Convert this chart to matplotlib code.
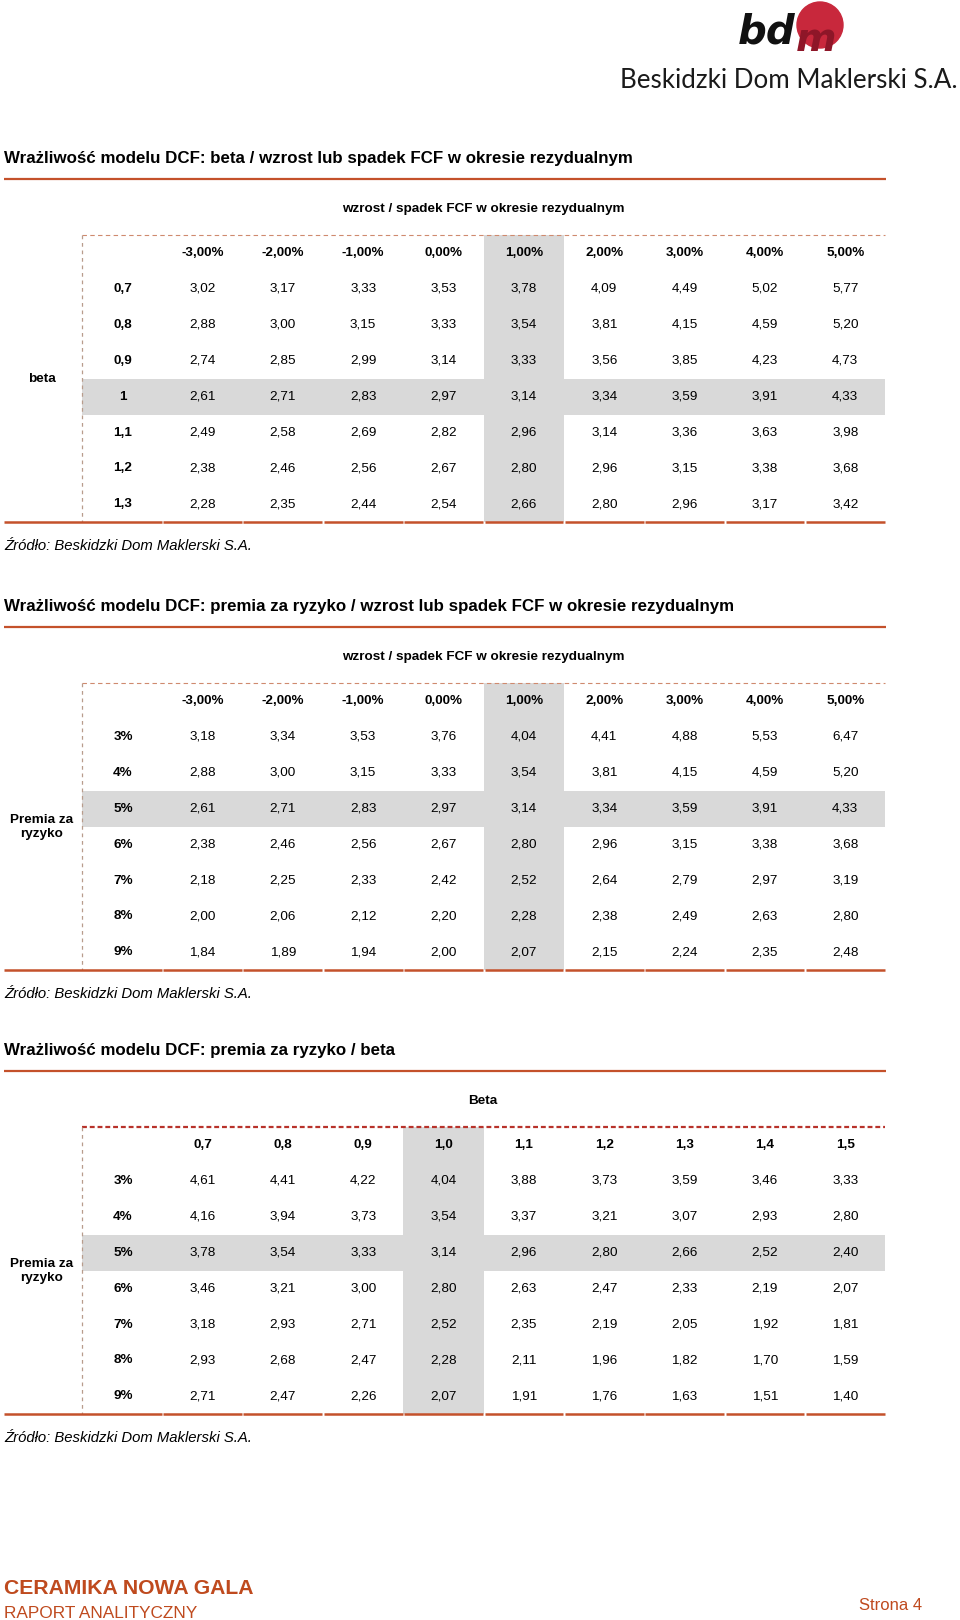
import matplotlib
matplotlib.use('Agg')
import matplotlib.pyplot as plt
from matplotlib.patches import Rectangle, Circle

plt.rcParams['font.family'] = ['Liberation Sans', 'DejaVu Sans']

# ---------------- data ----------------
fcf_cols = ['-3,00%', '-2,00%', '-1,00%', '0,00%', '1,00%', '2,00%', '3,00%', '4,00%', '5,00%']
beta_rows = ['0,7', '0,8', '0,9', '1', '1,1', '1,2', '1,3']
vals_beta_fcf = [
    [3.02, 3.17, 3.33, 3.53, 3.78, 4.09, 4.49, 5.02, 5.77],
    [2.88, 3.00, 3.15, 3.33, 3.54, 3.81, 4.15, 4.59, 5.20],
    [2.74, 2.85, 2.99, 3.14, 3.33, 3.56, 3.85, 4.23, 4.73],
    [2.61, 2.71, 2.83, 2.97, 3.14, 3.34, 3.59, 3.91, 4.33],
    [2.49, 2.58, 2.69, 2.82, 2.96, 3.14, 3.36, 3.63, 3.98],
    [2.38, 2.46, 2.56, 2.67, 2.80, 2.96, 3.15, 3.38, 3.68],
    [2.28, 2.35, 2.44, 2.54, 2.66, 2.80, 2.96, 3.17, 3.42],
]

premia_rows = ['3%', '4%', '5%', '6%', '7%', '8%', '9%']
vals_premia_fcf = [
    [3.18, 3.34, 3.53, 3.76, 4.04, 4.41, 4.88, 5.53, 6.47],
    [2.88, 3.00, 3.15, 3.33, 3.54, 3.81, 4.15, 4.59, 5.20],
    [2.61, 2.71, 2.83, 2.97, 3.14, 3.34, 3.59, 3.91, 4.33],
    [2.38, 2.46, 2.56, 2.67, 2.80, 2.96, 3.15, 3.38, 3.68],
    [2.18, 2.25, 2.33, 2.42, 2.52, 2.64, 2.79, 2.97, 3.19],
    [2.00, 2.06, 2.12, 2.20, 2.28, 2.38, 2.49, 2.63, 2.80],
    [1.84, 1.89, 1.94, 2.00, 2.07, 2.15, 2.24, 2.35, 2.48],
]

beta_cols = ['0,7', '0,8', '0,9', '1,0', '1,1', '1,2', '1,3', '1,4', '1,5']
vals_premia_beta = [
    [4.61, 4.41, 4.22, 4.04, 3.88, 3.73, 3.59, 3.46, 3.33],
    [4.16, 3.94, 3.73, 3.54, 3.37, 3.21, 3.07, 2.93, 2.80],
    [3.78, 3.54, 3.33, 3.14, 2.96, 2.80, 2.66, 2.52, 2.40],
    [3.46, 3.21, 3.00, 2.80, 2.63, 2.47, 2.33, 2.19, 2.07],
    [3.18, 2.93, 2.71, 2.52, 2.35, 2.19, 2.05, 1.92, 1.81],
    [2.93, 2.68, 2.47, 2.28, 2.11, 1.96, 1.82, 1.70, 1.59],
    [2.71, 2.47, 2.26, 2.07, 1.91, 1.76, 1.63, 1.51, 1.40],
]

titles = [
    'Wrażliwość modelu DCF: beta / wzrost lub spadek FCF w okresie rezydualnym',
    'Wrażliwość modelu DCF: premia za ryzyko / wzrost lub spadek FCF w okresie rezydualnym',
    'Wrażliwość modelu DCF: premia za ryzyko / beta',
]
subheaders = ['wzrost / spadek FCF w okresie rezydualnym',
              'wzrost / spadek FCF w okresie rezydualnym',
              'Beta']
group_labels = ['beta', 'Premia za\nryzyko', 'Premia za\nryzyko']
source_text = 'Źródło: Beskidzki Dom Maklerski S.A.'

# ---------------- style ----------------
W, H = 960, 1620
RED = '#C4512B'
GRAY = '#D9D9D9'
FS = 9.7
CW = 80.35       # column width in px
RH = 35.9        # row height in px
X0 = 202.5       # center of first data column in px

fig = plt.figure(figsize=(9.6, 16.2), dpi=100)
bg = fig.add_axes([0, 0, 1, 1])
bg.set_xlim(0, W)
bg.set_ylim(H, 0)
bg.axis('off')

# ---------------- logo ----------------
bg.add_patch(Circle((820, 25), 23, color='#C8283C', zorder=1))
bg.text(767, 32, 'bd', fontsize=29, fontweight='bold', fontstyle='italic',
        family=['DejaVu Sans'], ha='center', va='center', color='#111111', zorder=2)
bg.text(816, 40, 'm', fontsize=28, fontweight='bold', fontstyle='italic',
        family=['DejaVu Sans'], ha='center', va='center', color='#8E1628', zorder=2)
bg.text(958, 81, 'Beskidzki Dom Maklerski S.A.', fontsize=18.7, family=['Lato', 'Liberation Sans'],
        ha='right', va='center', color='#1a1a1a')


def draw_table(offset, title, subheader, cols, rows, vals, glabel, hl_row, hl_col,
               dense_top=False):
    # title & underline
    bg.text(4, 159 + offset, title, fontsize=12.12, fontweight='bold', ha='left',
            va='center', color='black')
    bg.plot([4, 886], [179 + offset, 179 + offset], color=RED, lw=1.6,
            solid_capstyle='butt')
    bg.text(483, 209 + offset, subheader, fontsize=FS, fontweight='bold',
            ha='center', va='center')
    bg.text(4, 546 + offset, source_text, fontsize=10.7, fontstyle='italic',
            ha='left', va='center')

    header_y = 253 + offset
    top_px = header_y - RH / 2
    bot_px = header_y + 7.5 * RH
    left_px = X0 - 2.5 * CW
    ax = fig.add_axes([left_px / W, 1 - bot_px / H, 11 * CW / W, (bot_px - top_px) / H])
    ax.set_xlim(-2.5, 8.5)
    ax.set_ylim(6.5, -1.5)
    ax.axis('off')

    n = len(rows)
    # shading
    ax.add_patch(Rectangle((-1.5, hl_row - 0.5), 10, 1, color=GRAY, lw=0, zorder=0))
    ax.add_patch(Rectangle((hl_col - 0.5, -1.5), 1, n + 1, color=GRAY, lw=0, zorder=0))

    # header
    for j, c in enumerate(cols):
        ax.text(j, -1, c, fontsize=FS, fontweight='bold', ha='center', va='center')
    for i, r in enumerate(rows):
        ax.text(-0.99, i, r, fontsize=FS, fontweight='bold', ha='center', va='center')
        for j, v in enumerate(vals[i]):
            ax.text(j, i, f'{v:.2f}'.replace('.', ','), fontsize=FS,
                    ha='center', va='center')
    ax.text(-2, (n - 2) / 2, glabel, fontsize=FS, fontweight='bold', ha='center',
            va='center', linespacing=1.25)

    # top dashed line
    if dense_top:
        ax.plot([-1.5, 8.5], [-1.5, -1.5], color='#B8322A', lw=1.6,
                linestyle=(0, (2.2, 1.3)), clip_on=False)
    else:
        ax.plot([-1.5, 8.5], [-1.5, -1.5], color='#CF8A6E', lw=0.8,
                linestyle=(0, (4, 3)), clip_on=False)
    # left dashed line
    ax.plot([-1.5, -1.5], [-1.5, n - 0.5], color='#B89C8C', lw=0.9,
            linestyle=(0, (3, 3)), clip_on=False)
    # bottom segmented line
    g = 0.01
    ax.plot([-2.47, -0.5 - g], [n - 0.5, n - 0.5], color=RED, lw=1.8,
            solid_capstyle='butt', clip_on=False)
    for j in range(len(cols)):
        ax.plot([j - 0.5 + g, j + 0.5 - g], [n - 0.5, n - 0.5], color=RED, lw=1.8,
                solid_capstyle='butt', clip_on=False)


draw_table(0, titles[0], subheaders[0], fcf_cols, beta_rows, vals_beta_fcf,
           group_labels[0], hl_row=3, hl_col=4)
draw_table(448, titles[1], subheaders[1], fcf_cols, premia_rows, vals_premia_fcf,
           group_labels[1], hl_row=2, hl_col=4)
draw_table(892, titles[2], subheaders[2], beta_cols, premia_rows, vals_premia_beta,
           group_labels[2], hl_row=2, hl_col=3, dense_top=True)

# ---------------- footer ----------------
bg.text(4, 1589, 'CERAMIKA NOWA GALA', fontsize=15.2, fontweight='bold',
        ha='left', va='center', color='#BF4A1E')
bg.text(4, 1614, 'RAPORT ANALITYCZNY', fontsize=12.4, ha='left', va='center',
        color='#BF4A1E')
bg.text(922, 1606, 'Strona 4', fontsize=12, ha='right', va='center', color='#BF4A1E')

fig.savefig('out.png', dpi=100, facecolor='white')
